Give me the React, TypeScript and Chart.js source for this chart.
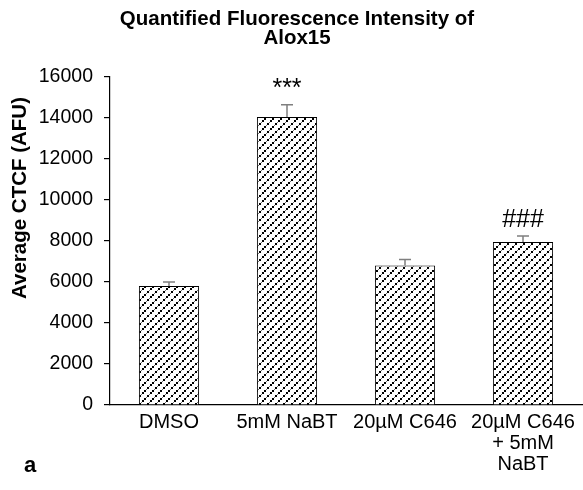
import React, { useEffect, useRef } from 'react';
import { Chart, registerables } from 'chart.js';
Chart.register(...registerables);

const categories: string[][] = [['DMSO'], ['5mM NaBT'], ['20µM C646'], ['20µM C646', '+ 5mM', 'NaBT']];
const means = [5800, 14050, 6800, 7950];
const upperErrors = [200, 600, 300, 300];
const marks = ['', '***', '', '###'];
const yMin = 0;
const yMax = 16000;
const yStep = 2000;
const titleLines = ['Quantified Fluorescence Intensity of', 'Alox15'];
const yTitle = 'Average CTCF (AFU)';
const panelLabel = 'a';

const FONT = "Arial, 'Liberation Sans', sans-serif";

function makePattern(): CanvasPattern | string {
  const n = 8;
  const c = document.createElement('canvas');
  c.width = n;
  c.height = n;
  const g = c.getContext('2d');
  if (!g) return '#fff';
  g.fillStyle = '#ffffff';
  g.fillRect(0, 0, n, n);
  g.strokeStyle = 'rgba(0,0,0,0.55)';
  g.lineWidth = 1;
  for (const off of [-n, 0, n]) {
    g.beginPath();
    g.moveTo(off, n);
    g.lineTo(off + n, 0);
    g.stroke();
  }
  g.fillStyle = '#000000';
  // black dots along the diagonal "/"
  [[0, 6], [3, 3], [6, 0]].forEach(([x, y]) => g.fillRect(x, y, 2, 2));
  const p = g.createPattern(c, 'repeat');
  return p || '#fff';
}

const overlay = {
  id: 'overlay',
  afterDatasetsDraw(chart: any) {
    const ctx = chart.ctx;
    const x = chart.scales.x;
    const y = chart.scales.y;
    ctx.save();
    // error bars
    ctx.strokeStyle = '#7f7f7f';
    ctx.lineWidth = 1.5;
    means.forEach((m, i) => {
      const cx = x.getPixelForValue(i);
      const y0 = y.getPixelForValue(m);
      const y1 = y.getPixelForValue(m + upperErrors[i]);
      ctx.beginPath();
      ctx.moveTo(cx, y0);
      ctx.lineTo(cx, y1);
      ctx.moveTo(cx - 6, y1);
      ctx.lineTo(cx + 6, y1);
      ctx.stroke();
    });
    // significance marks
    ctx.fillStyle = '#000';
    ctx.textAlign = 'center';
    ctx.textBaseline = 'alphabetic';
    ctx.font = `25px ${FONT}`;
    marks.forEach((t, i) => {
      if (!t) return;
      const cx = x.getPixelForValue(i);
      const y1 = y.getPixelForValue(means[i] + upperErrors[i]);
      ctx.fillText(t, cx, y1 - 9);
    });
    // title
    ctx.font = `bold 20.5px ${FONT}`;
    ctx.textBaseline = 'middle';
    titleLines.forEach((t, i) => ctx.fillText(t, 297, 19 + i * 19));
    // y title
    ctx.save();
    ctx.translate(20, 198);
    ctx.rotate(-Math.PI / 2);
    ctx.font = `bold 20.5px ${FONT}`;
    ctx.fillText(yTitle, 0, 0);
    ctx.restore();
    // panel label
    ctx.textAlign = 'left';
    ctx.font = `bold 22px ${FONT}`;
    ctx.fillText(panelLabel, 24, 466);
    ctx.restore();
  },
};

export default function App() {
  const ref = useRef<HTMLCanvasElement>(null);
  useEffect(() => {
    document.body.style.margin = '0';
    if (!ref.current) return;
    const pattern = makePattern();
    const chart = new Chart(ref.current, {
      type: 'bar',
      data: {
        labels: categories as any,
        datasets: [
          {
            data: means,
            backgroundColor: pattern as any,
            borderColor: '#000',
            borderWidth: 1,
            categoryPercentage: 1,
            barPercentage: 0.51,
          },
        ],
      },
      options: {
        animation: false,
        responsive: false,
        devicePixelRatio: 1,
        layout: { padding: { top: 77, right: 1, left: 0, bottom: 0 } },
        plugins: { legend: { display: false }, title: { display: false }, tooltip: { enabled: false } },
        scales: {
          x: {
            grid: { display: false, drawTicks: false },
            border: { display: true, color: '#000', width: 1.2 },
            ticks: {
              color: '#000',
              font: { family: FONT, size: 20, lineHeight: 1.05 },
              maxRotation: 0,
              autoSkip: false,
              padding: 7,
            },
            afterFit(s: any) {
              s.height = 85;
            },
          },
          y: {
            min: yMin,
            max: yMax,
            grid: { display: true, drawOnChartArea: false, drawTicks: true, tickLength: 6, color: '#000', lineWidth: 1.2 },
            border: { display: true, color: '#000', width: 1.2 },
            ticks: {
              stepSize: yStep,
              color: '#000',
              font: { family: FONT, size: 19.5 },
              padding: 11,
              callback: (v: any) => String(v),
            },
            afterFit(s: any) {
              s.width = 110;
            },
          },
        },
      },
      plugins: [overlay],
    });
    return () => chart.destroy();
  }, []);
  return (
    <div style={{ width: 583, height: 490 }}>
      <canvas ref={ref} width={583} height={490} style={{ display: 'block' }} />
    </div>
  );
}
